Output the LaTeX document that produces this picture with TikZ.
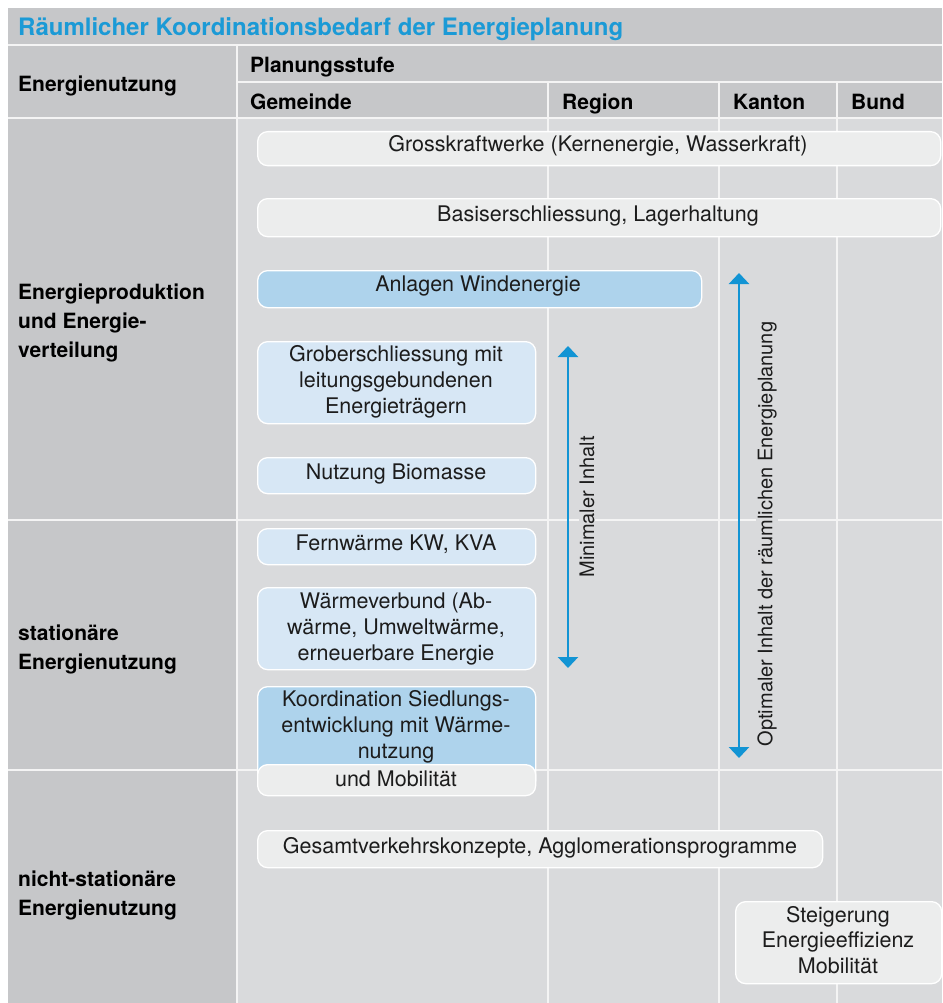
\documentclass[tikz,border=0pt]{standalone}
\usepackage{fontspec}
\setmainfont{TeX Gyre Heros}
\usetikzlibrary{arrows.meta}
\definecolor{hdrgray}{RGB}{198,199,201}
\definecolor{bodygray}{RGB}{217,218,220}
\definecolor{gridline}{RGB}{244,244,244}
\definecolor{boxgray}{RGB}{236,237,237}
\definecolor{boxpale}{RGB}{215,231,245}
\definecolor{boxblue}{RGB}{174,211,236}
\definecolor{titleblue}{RGB}{27,154,214}
\definecolor{arrowblue}{RGB}{18,148,212}
\definecolor{boxtext}{RGB}{28,28,28}

\begin{document}
\begin{tikzpicture}[x=1pt,y=-1pt,
  grid/.style={draw=gridline,line width=1.6pt},
  panel/.style={draw=white,line width=1.3pt,rounded corners=10pt,inner sep=0pt,anchor=north west},
  boxlbl/.style={font=\fontsize{21.5}{25.8}\selectfont,text=boxtext,align=center,inner sep=0pt},
  hdr/.style={font=\fontsize{21}{29}\selectfont\bfseries,anchor=west,align=left,inner sep=0pt},
  colhdr/.style={font=\fontsize{21}{29}\selectfont\bfseries,anchor=base west,inner sep=0pt},
  sidelbl/.style={font=\fontsize{20}{24}\selectfont,text=boxtext,rotate=90,fill=bodygray,inner sep=1pt},
  span/.style={draw=arrowblue,line width=2.6pt,
    {Triangle[width=20pt,length=11pt]}-{Triangle[width=20pt,length=11pt]}}
]
\useasboundingbox (0,0) rectangle (942,1003);

% background areas
\fill[hdrgray] (8,8) rectangle (942,118);
\fill[hdrgray] (8,118) rectangle (237,1003);
\fill[bodygray] (237,118) rectangle (942,1003);

% table rules
\draw[grid] (8,45) -- (942,45);
\draw[grid] (237,82) -- (942,82);
\draw[grid] (8,118) -- (942,118);
\draw[grid] (8,520) -- (942,520);
\draw[grid] (8,770) -- (942,770);
\draw[grid] (237,45) -- (237,1003);
\draw[grid] (548,82) -- (548,1003);
\draw[grid] (719,82) -- (719,1003);
\draw[grid] (837,82) -- (837,1003);

% title and headers
\node[anchor=base west,inner sep=0pt,font=\fontsize{24}{28}\selectfont\bfseries,text=titleblue] (title) at (18,36)
  {Räumlicher Koordinationsbedarf der Energieplanung};
\node[colhdr] (hUse) at (18,91.5) {Energienutzung};
\node[colhdr] (hStage) at (250,72.5) {Planungsstufe};
\node[colhdr] (hGem) at (250,109.5) {Gemeinde};
\node[colhdr] (hReg) at (562,109.5) {Region};
\node[colhdr] (hKan) at (733,109.5) {Kanton};
\node[colhdr] (hBund) at (851,109.5) {Bund};

% row labels
\node[hdr] (rProd) at (18,323) {Energieproduktion\\und Energie-\\verteilung};
\node[hdr] (rStat) at (18,649.5) {stationäre\\Energienutzung};
\node[hdr] (rMob) at (18,895.5) {nicht-stationäre\\Energienutzung};

% boxes
\node[panel,fill=boxgray,minimum width=683pt,minimum height=34pt] (gkw) at (257,131) {};
\node[boxlbl] (gkwT) at (598,146) {Grosskraftwerke (Kernenergie, Wasserkraft)};

\node[panel,fill=boxgray,minimum width=683pt,minimum height=38pt] (basis) at (257,198) {};
\node[boxlbl] (basisT) at (598,216) {Basiserschliessung, Lagerhaltung};

\node[panel,fill=boxblue,minimum width=444pt,minimum height=37pt] (wind) at (257,270) {};
\node[boxlbl] (windT) at (478,286) {Anlagen Windenergie};

\node[panel,fill=boxpale,minimum width=278pt,minimum height=82pt] (grob) at (257,341) {};
\node[boxlbl] (grobT) at (396,382) {Groberschliessung mit\\leitungsgebundenen\\Energieträgern};

\node[panel,fill=boxpale,minimum width=278pt,minimum height=36pt] (bio) at (257,457) {};
\node[boxlbl] (bioT) at (396,474) {Nutzung Biomasse};

\node[panel,fill=boxpale,minimum width=278pt,minimum height=36pt] (fern) at (257,528) {};
\node[boxlbl] (fernT) at (396,544) {Fernwärme KW, KVA};

\node[panel,fill=boxpale,minimum width=278pt,minimum height=82pt] (wv) at (257,587) {};
\node[boxlbl] (wvT) at (396,629) {Wärmeverbund (Ab-\\wärme, Umweltwärme,\\erneuerbare Energie};

\node[panel,fill=boxblue,minimum width=278pt,minimum height=104pt] (koord) at (257,686) {};
\node[boxlbl] (koordT) at (396,727) {Koordination Siedlungs-\\entwicklung mit Wärme-\\nutzung};
\node[panel,fill=boxgray,minimum width=278pt,minimum height=31pt] (mob) at (257,764) {};
\node[boxlbl] (mobT) at (396,779) {und Mobilität};

\node[panel,fill=boxgray,minimum width=565pt,minimum height=37pt] (gvk) at (257,830) {};
\node[boxlbl] (gvkT) at (540,848) {Gesamtverkehrskonzepte, Agglomerationsprogramme};

\node[panel,fill=boxgray,minimum width=206pt,minimum height=82pt] (steig) at (735,901) {};
\node[boxlbl] (steigT) at (838,940) {Steigerung\\Energieeffizienz\\Mobilität};

% extent arrows
\coordinate (minTop) at (568,346);
\coordinate (minBot) at (568,668);
\coordinate (optTop) at (739,273);
\coordinate (optBot) at (739,758);
\draw[span] (minTop) -- (minBot);
\draw[span] (optTop) -- (optBot);
\node[sidelbl] (minL) at (587,507) {Minimaler Inhalt};
\node[sidelbl] (optL) at (767,534) {Optimaler Inhalt der räumlichen Energieplanung};
\end{tikzpicture}
\end{document}
